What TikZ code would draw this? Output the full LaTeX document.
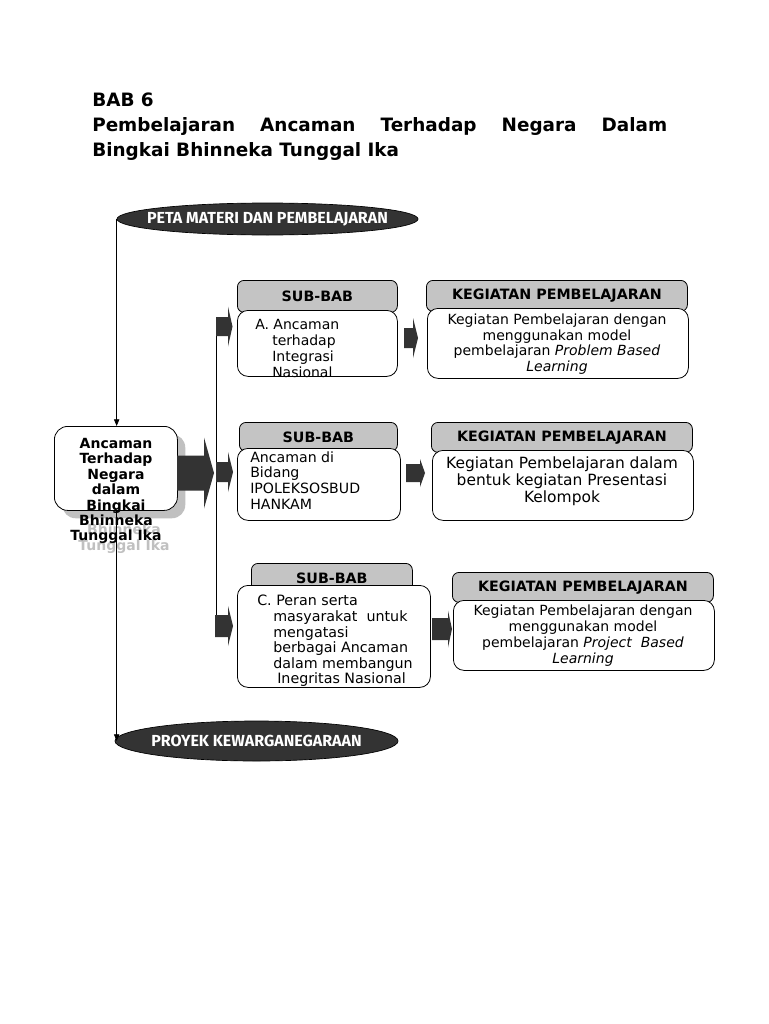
\documentclass[tikz,border=0pt]{standalone}
\usepackage{fontspec}
\setmainfont{DejaVu Sans}
\newfontfamily\elfont{Fira Sans}
\usetikzlibrary{shapes.geometric,arrows.meta}
\definecolor{dk}{HTML}{333333}
\definecolor{hd}{HTML}{C4C4C4}
\definecolor{sh}{HTML}{C0C0C0}
\newcommand\blkarr[6]{%
  \fill[dk] (#1,{#4-#5/2}) -- (#2,{#4-#5/2}) -- (#2,{#4-#6/2}) -- (#3,#4) --
    (#2,{#4+#6/2}) -- (#2,{#4+#5/2}) -- (#1,{#4+#5/2}) -- cycle;}
\tikzset{
  hdr/.style={draw=black, line width=0.6pt, fill=hd, rounded corners=5pt, anchor=north west,
    inner sep=0pt, font=\bfseries\fontsize{10.7}{12}\selectfont},
  bodybox/.style={draw=black, line width=0.6pt, fill=white, rounded corners=8pt,
    anchor=north west, inner sep=0pt},
  ellip/.style={ellipse, draw=black, line width=0.5pt, fill=dk, text=white,
    font=\elfont\bfseries\fontsize{12}{14}\selectfont, inner sep=0pt},
  txt/.style={inner sep=0pt, font=\fontsize{10.5}{12}\selectfont},
  ttl/.style={anchor=base west, inner sep=0pt, font=\bfseries\fontsize{13.8}{16}\selectfont},
  conn/.style={line width=0.6pt, -{Triangle[length=5pt,width=4pt]}},
  bus/.style={line width=0.6pt},
}
\begin{document}
\begin{tikzpicture}[x=0.75pt,y=-0.75pt]
\useasboundingbox (0,0) rectangle (768,1024);
\fill[white] (0,0) rectangle (768,1024);

% Title
\node[ttl] (t1) at (92,106) {BAB 6};
\node[ttl] (t2) at (92,131) {\makebox[431.25pt][s]{Pembelajaran Ancaman Terhadap Negara Dalam}};
\node[ttl] (t3) at (92,156) {Bingkai Bhinneka Tunggal Ika};

% Ellipses
\node[ellip, minimum width=225.75pt, minimum height=24pt] (top) at (267.5,219) {\makebox[0pt]{PETA MATERI DAN PEMBELAJARAN}};
\node[ellip, minimum width=212.25pt, minimum height=30pt] (bot) at (256.5,741) {\makebox[0pt]{PROYEK KEWARGANEGARAAN}};

% Main box with shadow
\node[inner sep=0pt, align=center, text=sh, anchor=north,
      font=\bfseries\fontsize{10.5}{11.55}\selectfont] (ghost) at (124,524)
      {Bhinneka\\Tunggal Ika};
\node[anchor=north west, fill=sh, rounded corners=10pt, minimum width=92.25pt,
      minimum height=63pt, inner sep=0pt] (shadow) at (62,434) {};
\node[bodybox, rounded corners=10pt, minimum width=92.25pt, minimum height=63pt] (main) at (54,426) {};
\node[inner sep=0pt, align=center, anchor=north,
      font=\bfseries\fontsize{10.5}{11.55}\selectfont] (maintxt) at (116,438)
      {Ancaman\\Terhadap\\Negara\\dalam\\Bingkai\\Bhinneka\\Tunggal Ika};

% Left connectors
\draw[conn] (top.west) -- (top.west |- main.north);
\draw[conn] (top.west |- main.south) -- (top.west |- bot.west);

% Big arrow and bus
\blkarr{177}{204}{214}{473}{35}{71}
\coordinate (busT) at (216,317);
\coordinate (busB) at (216,637);
\draw[bus] (busT) -- (busB);

% Row 1
\node[hdr, minimum width=120pt, minimum height=24pt] (s1h) at (237,280) {SUB-BAB};
\node[bodybox, minimum width=120pt, minimum height=49.5pt] (s1b) at (237,310) {};
\node[txt, anchor=north west, align=left] (s1t) at (255,319)
  {A. Ancaman\\\hspace*{12.75pt}terhadap\\\hspace*{12.75pt}Integrasi\\\hspace*{12.75pt}Nasional};
\node[hdr, minimum width=195.75pt, minimum height=23.25pt] (k1h) at (426,280) {KEGIATAN PEMBELAJARAN};
\node[bodybox, minimum width=195.75pt, minimum height=52.5pt] (k1b) at (427,308) {};
\node[txt, anchor=north, align=center, font=\fontsize{10.5}{11.6}\selectfont] (k1t) at (557,314)
  {Kegiatan Pembelajaran dengan\\menggunakan model\\pembelajaran \textit{Problem Based}\\\textit{Learning}};
\blkarr{216}{228}{232.5}{326.5}{19}{40}
\blkarr{404}{413}{418}{338}{20}{40}

% Row 2
\node[hdr, minimum width=118.5pt, minimum height=21.75pt] (s2h) at (239,422) {SUB-BAB};
\node[bodybox, minimum width=122.25pt, minimum height=54pt] (s2b) at (237,448) {};
\node[txt, anchor=north west, align=left, font=\fontsize{10.6}{11.8}\selectfont] (s2t) at (250,451)
  {Ancaman di\\Bidang\\IPOLEKSOSBUD\\HANKAM};
\node[hdr, minimum width=195.75pt, minimum height=22.5pt] (k2h) at (431,422) {KEGIATAN PEMBELAJARAN};
\node[bodybox, minimum width=195.75pt, minimum height=52.5pt] (k2b) at (432,450) {};
\node[txt, anchor=north, align=center, font=\fontsize{11.6}{12.75}\selectfont] (k2t) at (562,456)
  {Kegiatan Pembelajaran dalam\\bentuk kegiatan Presentasi\\Kelompok};
\blkarr{216}{228}{233}{472}{20}{40}
\blkarr{406}{420}{425}{473}{18}{28}

% Row 3
\node[hdr, minimum width=120.75pt, minimum height=21.75pt] (s3h) at (251,563) {SUB-BAB};
\node[bodybox, minimum width=144.75pt, minimum height=76.5pt] (s3b) at (237,585) {};
\node[txt, anchor=north west, align=left, font=\fontsize{10.7}{11.7}\selectfont] (s3t) at (257,595)
  {C. Peran serta\\\hspace*{12pt}masyarakat\ \ untuk\\\hspace*{12pt}mengatasi\\\hspace*{12pt}berbagai Ancaman\\\hspace*{12pt}dalam membangun\\\hspace*{15pt}Inegritas Nasional};
\node[hdr, minimum width=195.75pt, minimum height=22.5pt] (k3h) at (452,572) {KEGIATAN PEMBELAJARAN};
\node[bodybox, minimum width=195.75pt, minimum height=52.5pt] (k3b) at (453,600) {};
\node[txt, anchor=north, align=center, font=\fontsize{10.5}{12}\selectfont] (k3t) at (583,605)
  {Kegiatan Pembelajaran dengan\\menggunakan model\\pembelajaran \textit{Project\ \ Based}\\\textit{Learning}};
\blkarr{215}{228}{233}{626}{22}{40}
\blkarr{432}{448}{452}{629}{22}{37}
\end{tikzpicture}
\end{document}
